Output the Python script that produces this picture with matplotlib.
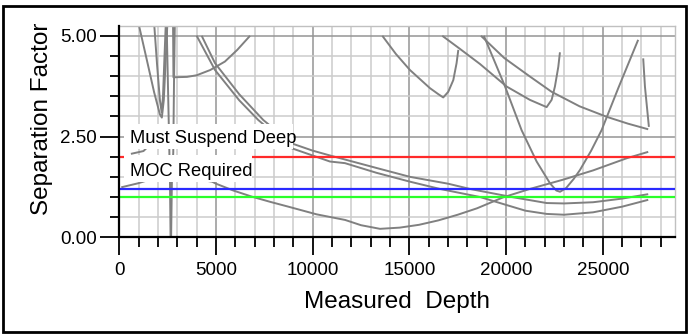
import matplotlib
matplotlib.use("Agg")
import matplotlib.pyplot as plt
from matplotlib.patches import Rectangle
from matplotlib.ticker import MultipleLocator

plt.rcParams['font.family'] = ['Liberation Sans', 'DejaVu Sans']

# ---- data (Measured Depth, Separation Factor) ----
v1_md = [1020, 1400, 1800, 2100, 2200, 2300, 2400, 2480]
v1_sf = [5.25, 4.45, 3.6, 3.05, 2.97, 3.4, 4.4, 5.25]

v2_md = [1810, 1950, 2100, 2190, 2260, 2330, 2400]
v2_sf = [5.25, 4.3, 3.4, 3.1, 3.5, 4.4, 5.25]

spike_md = [2450, 2550, 2620, 2650, 2680, 2720, 2790, 2830, 2870]
spike_sf = [5.25, 3.0, 1.4, 0.03, 0.03, 1.4, 2.1, 3.9, 5.25]

b_md = [2780, 2800, 3500, 4000, 4700, 5460, 6100, 6760]
b_sf = [5.25, 3.97, 3.98, 4.02, 4.15, 4.36, 4.65, 5.0]

e_md = [600, 1250, 1700, 2000]
e_sf = [2.07, 2.14, 2.35, 2.6]

d_md = [100, 970, 1500, 3000, 4000, 4800, 5000, 5900, 6845, 7800, 8740, 10200,
        11680, 12500, 13480, 14500, 15500, 16500, 17500, 18500, 19840, 21230,
        22950, 24500, 26230, 27350]
d_sf = [1.24, 1.34, 1.42, 1.46, 1.44, 1.38, 1.33, 1.16, 1.01, 0.88, 0.76, 0.57,
        0.43, 0.3, 0.21, 0.24, 0.31, 0.42, 0.56, 0.72, 0.99, 1.2,
        1.43, 1.66, 1.96, 2.12]

c1_md = [4260, 4950, 6200, 7445, 8913, 10000, 10893, 11669, 13300, 15030, 17000,
         18130, 20290, 22097, 23000, 24500, 26000, 27350]
c1_sf = [5.0, 4.32, 3.55, 2.91, 2.33, 2.15, 2.03, 1.93, 1.72, 1.5, 1.33,
         1.2, 1.0, 0.85, 0.84, 0.87, 0.96, 1.07]

c2_md = [4000, 4950, 6200, 7186, 8913, 10893, 11669, 13300, 15030, 16580, 18650,
         20029, 21000, 22097, 23000, 24500, 26000, 27350]
c2_sf = [5.0, 4.15, 3.4, 2.91, 2.21, 1.88, 1.84, 1.6, 1.38, 1.2, 1.0,
         0.8, 0.66, 0.58, 0.56, 0.62, 0.76, 0.93]

f_md = [13600, 14300, 15030, 16064, 16500, 16750, 17010, 17270, 17440, 17530]
f_sf = [5.0, 4.55, 4.15, 3.7, 3.55, 3.47, 3.61, 3.9, 4.32, 4.65]

g_md = [16700, 17600, 18650, 20030, 21230, 22097, 22355, 22525, 22700, 22785]
g_sf = [5.0, 4.68, 4.3, 3.74, 3.41, 3.23, 3.41, 3.74, 4.23, 4.59]

h_md = [18700, 19900, 21230, 22355, 23800, 25200, 26300, 27350]
h_sf = [5.0, 4.45, 3.99, 3.61, 3.25, 2.99, 2.82, 2.68]

i_md = [18850, 19940, 20800, 21580, 22270, 22600, 22790, 23100, 23500, 23820,
        24400, 24940, 25800, 26830]
i_sf = [5.0, 3.75, 2.66, 1.88, 1.34, 1.16, 1.13, 1.22, 1.45, 1.67,
        2.15, 2.66, 3.7, 4.9]

j_md = [27090, 27180, 27385]
j_sf = [4.44, 3.74, 2.74]

curves = [(v1_md, v1_sf), (v2_md, v2_sf), (spike_md, spike_sf), (b_md, b_sf),
          (e_md, e_sf), (d_md, d_sf), (c1_md, c1_sf), (c2_md, c2_sf),
          (f_md, f_sf), (g_md, g_sf), (h_md, h_sf), (i_md, i_sf), (j_md, j_sf)]

limit_names = ["Must Suspend Deep", "MOC Required", "Minimum"]
limit_values = [2.0, 1.2, 1.0]
limit_colors = ["#ff2a2a", "#2a2aff", "#2aff2a"]

x_ticks = [0, 5000, 10000, 15000, 20000, 25000]
y_ticks = [0.0, 2.5, 5.0]
y_tick_labels = ["0.00", "2.50", "5.00"]

# ---- figure ----
fig = plt.figure(figsize=(6.9, 3.34), dpi=100)
ax = fig.add_axes([119.3 / 690, 1 - 237.3 / 334, 556 / 690, 211.6 / 334])
ax.set_xlim(0, 28750)
ax.set_ylim(0, 5.25)

# grid
for xv in range(1000, 29000, 1000):
    major = (xv % 5000 == 0)
    ax.axvline(xv, color="#959595" if major else "#cccccc", lw=1.1, zorder=0)
for k in range(1, 11):
    yv = k * 0.5
    major = (k % 5 == 0)
    ax.axhline(yv, color="#959595" if major else "#cccccc", lw=1.1, zorder=0)

for md, sf in curves:
    ax.plot(md, sf, color="#808080", lw=1.4, zorder=2, solid_capstyle="butt")

for val, col in zip(limit_values, limit_colors):
    ax.axhline(val, color=col, lw=1.6, zorder=3)

# label boxes
ax.add_patch(Rectangle((240, 2.2), 8970 - 240, 2.81 - 2.2, facecolor="white",
                       edgecolor="none", zorder=4))
ax.add_patch(Rectangle((240, 1.38), 6860 - 240, 2.05 - 1.38, facecolor="white",
                       edgecolor="none", zorder=4))
ax.text(560, 2.33, limit_names[0], fontsize=13.2, ha="left", va="baseline", zorder=5)
ax.text(560, 1.51, limit_names[1], fontsize=13.2, ha="left", va="baseline", zorder=5)

# spines
for s in ["top", "right"]:
    ax.spines[s].set_color("#c0c0c0")
    ax.spines[s].set_linewidth(1.0)
for s in ["left", "bottom"]:
    ax.spines[s].set_color("black")
    ax.spines[s].set_linewidth(1.6)
    ax.spines[s].set_zorder(6)

ax.set_xticks(x_ticks)
ax.set_xticklabels([str(t) for t in x_ticks])
ax.xaxis.set_minor_locator(MultipleLocator(1000))
ax.set_yticks(y_ticks)
ax.set_yticklabels(y_tick_labels)
ax.yaxis.set_minor_locator(MultipleLocator(0.5))
ax.tick_params(axis="x", which="major", direction="out", length=13, width=1.3,
               labelsize=13.5, pad=5)
ax.tick_params(axis="x", which="minor", direction="out", length=7, width=1.3)
ax.tick_params(axis="y", which="major", direction="out", length=14, width=1.3,
               labelsize=13.5, pad=2)
ax.tick_params(axis="y", which="minor", direction="out", length=6.7, width=1.3)

ax.set_xlabel("Measured  Depth", fontsize=17.5)
ax.set_ylabel("Separation Factor", fontsize=17.5)
ax.xaxis.set_label_coords(0.5, -0.255)
ax.yaxis.set_label_coords(-0.119, 0.56)

# outer frame
fig.patches.append(Rectangle((3 / 690, 2 / 334), 683 / 690, 326 / 334,
                             transform=fig.transFigure, fill=False,
                             edgecolor="black", lw=2))

fig.savefig("out.png", dpi=100)
